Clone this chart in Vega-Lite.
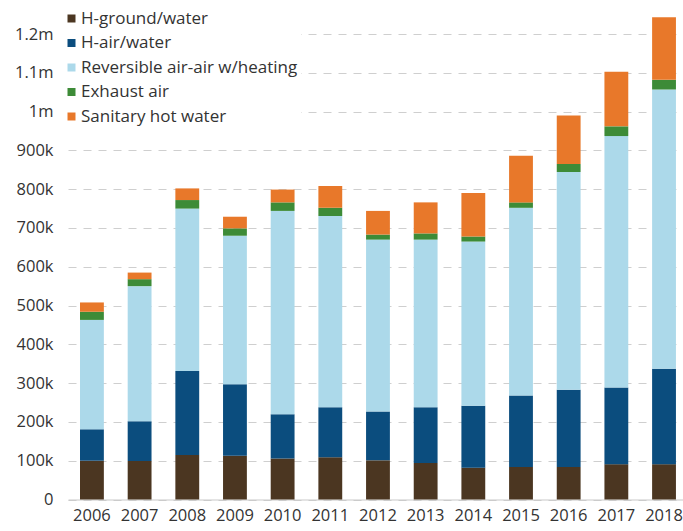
{
  "$schema": "https://vega.github.io/schema/vega-lite/v6.json",
  "autosize": {"type": "none"},
  "padding": {"left": 68, "top": 3, "right": 0, "bottom": 31.5},
  "width": 615,
  "height": 496.5,
  "background": "white",
  "config": {
    "view": {"stroke": null},
    "font": "Open Sans"
  },
  "data": {
    "values": [
      {"year": "2006", "type": "H-ground/water", "i": 1, "v": 100000},
      {"year": "2006", "type": "H-air/water", "i": 2, "v": 81000},
      {"year": "2006", "type": "Reversible air-air w/heating", "i": 3, "v": 282000},
      {"year": "2006", "type": "Exhaust air", "i": 4, "v": 21000},
      {"year": "2006", "type": "Sanitary hot water", "i": 5, "v": 24000},
      {"year": "2007", "type": "H-ground/water", "i": 1, "v": 99000},
      {"year": "2007", "type": "H-air/water", "i": 2, "v": 103000},
      {"year": "2007", "type": "Reversible air-air w/heating", "i": 3, "v": 348000},
      {"year": "2007", "type": "Exhaust air", "i": 4, "v": 18000},
      {"year": "2007", "type": "Sanitary hot water", "i": 5, "v": 17000},
      {"year": "2008", "type": "H-ground/water", "i": 1, "v": 115000},
      {"year": "2008", "type": "H-air/water", "i": 2, "v": 216000},
      {"year": "2008", "type": "Reversible air-air w/heating", "i": 3, "v": 419000},
      {"year": "2008", "type": "Exhaust air", "i": 4, "v": 22000},
      {"year": "2008", "type": "Sanitary hot water", "i": 5, "v": 30000},
      {"year": "2009", "type": "H-ground/water", "i": 1, "v": 113000},
      {"year": "2009", "type": "H-air/water", "i": 2, "v": 184000},
      {"year": "2009", "type": "Reversible air-air w/heating", "i": 3, "v": 383000},
      {"year": "2009", "type": "Exhaust air", "i": 4, "v": 19000},
      {"year": "2009", "type": "Sanitary hot water", "i": 5, "v": 30000},
      {"year": "2010", "type": "H-ground/water", "i": 1, "v": 106000},
      {"year": "2010", "type": "H-air/water", "i": 2, "v": 114000},
      {"year": "2010", "type": "Reversible air-air w/heating", "i": 3, "v": 524000},
      {"year": "2010", "type": "Exhaust air", "i": 4, "v": 22000},
      {"year": "2010", "type": "Sanitary hot water", "i": 5, "v": 33000},
      {"year": "2011", "type": "H-ground/water", "i": 1, "v": 109000},
      {"year": "2011", "type": "H-air/water", "i": 2, "v": 129000},
      {"year": "2011", "type": "Reversible air-air w/heating", "i": 3, "v": 493000},
      {"year": "2011", "type": "Exhaust air", "i": 4, "v": 21000},
      {"year": "2011", "type": "Sanitary hot water", "i": 5, "v": 56000},
      {"year": "2012", "type": "H-ground/water", "i": 1, "v": 101000},
      {"year": "2012", "type": "H-air/water", "i": 2, "v": 126000},
      {"year": "2012", "type": "Reversible air-air w/heating", "i": 3, "v": 443000},
      {"year": "2012", "type": "Exhaust air", "i": 4, "v": 13000},
      {"year": "2012", "type": "Sanitary hot water", "i": 5, "v": 61000},
      {"year": "2013", "type": "H-ground/water", "i": 1, "v": 94000},
      {"year": "2013", "type": "H-air/water", "i": 2, "v": 144000},
      {"year": "2013", "type": "Reversible air-air w/heating", "i": 3, "v": 432000},
      {"year": "2013", "type": "Exhaust air", "i": 4, "v": 16000},
      {"year": "2013", "type": "Sanitary hot water", "i": 5, "v": 80000},
      {"year": "2014", "type": "H-ground/water", "i": 1, "v": 82000},
      {"year": "2014", "type": "H-air/water", "i": 2, "v": 160000},
      {"year": "2014", "type": "Reversible air-air w/heating", "i": 3, "v": 423000},
      {"year": "2014", "type": "Exhaust air", "i": 4, "v": 13000},
      {"year": "2014", "type": "Sanitary hot water", "i": 5, "v": 112000},
      {"year": "2015", "type": "H-ground/water", "i": 1, "v": 84000},
      {"year": "2015", "type": "H-air/water", "i": 2, "v": 184000},
      {"year": "2015", "type": "Reversible air-air w/heating", "i": 3, "v": 484000},
      {"year": "2015", "type": "Exhaust air", "i": 4, "v": 14000},
      {"year": "2015", "type": "Sanitary hot water", "i": 5, "v": 120000},
      {"year": "2016", "type": "H-ground/water", "i": 1, "v": 84000},
      {"year": "2016", "type": "H-air/water", "i": 2, "v": 199000},
      {"year": "2016", "type": "Reversible air-air w/heating", "i": 3, "v": 561000},
      {"year": "2016", "type": "Exhaust air", "i": 4, "v": 21000},
      {"year": "2016", "type": "Sanitary hot water", "i": 5, "v": 125000},
      {"year": "2017", "type": "H-ground/water", "i": 1, "v": 91000},
      {"year": "2017", "type": "H-air/water", "i": 2, "v": 198000},
      {"year": "2017", "type": "Reversible air-air w/heating", "i": 3, "v": 648000},
      {"year": "2017", "type": "Exhaust air", "i": 4, "v": 25000},
      {"year": "2017", "type": "Sanitary hot water", "i": 5, "v": 141000},
      {"year": "2018", "type": "H-ground/water", "i": 1, "v": 91000},
      {"year": "2018", "type": "H-air/water", "i": 2, "v": 246000},
      {"year": "2018", "type": "Reversible air-air w/heating", "i": 3, "v": 720000},
      {"year": "2018", "type": "Exhaust air", "i": 4, "v": 25000},
      {"year": "2018", "type": "Sanitary hot water", "i": 5, "v": 161000}
    ]
  },
  "mark": {"type": "bar"},
  "encoding": {
    "x": {
      "field": "year",
      "type": "ordinal",
      "scale": {"paddingInner": 0.5, "paddingOuter": 0.2, "align": 0.63},
      "axis": {
        "title": null,
        "labelAngle": 0,
        "labelFontSize": 16.5,
        "labelColor": "#333333",
        "labelPadding": 8,
        "ticks": false,
        "domainColor": "#c8c8c8",
        "domainWidth": 1
      }
    },
    "y": {
      "field": "v",
      "type": "quantitative",
      "stack": "zero",
      "scale": {"domain": [0, 1280000], "nice": false},
      "axis": {
        "title": null,
        "values": [0, 100000, 200000, 300000, 400000, 500000, 600000, 700000, 800000, 900000, 1000000, 1100000, 1200000],
        "labelExpr": "datum.value == 0 ? '0' : (datum.value >= 1000000 ? format(datum.value / 1000000, '.1~f') + 'm' : format(datum.value / 1000, 'd') + 'k')",
        "labelFontSize": 16.5,
        "labelColor": "#333333",
        "labelPadding": 15,
        "ticks": false,
        "domain": false,
        "grid": true,
        "gridColor": "#cfcfcf",
        "gridDash": [8, 7],
        "gridWidth": 1.2
      }
    },
    "color": {
      "field": "type",
      "type": "nominal",
      "scale": {
        "domain": ["H-ground/water", "H-air/water", "Reversible air-air w/heating", "Exhaust air", "Sanitary hot water"],
        "range": ["#4b3621", "#0b4d7e", "#acd9ea", "#3d8b37", "#e8782a"]
      },
      "legend": {
        "title": null,
        "orient": "none",
        "legendX": -8,
        "legendY": 4,
        "symbolType": "square",
        "symbolSize": 64,
        "symbolStrokeWidth": 0,
        "labelFontSize": 17,
        "labelColor": "#333333",
        "labelOffset": 1,
        "rowPadding": 6.5,
        "fillColor": "white",
        "padding": 3,
        "labelLimit": 300
      }
    },
    "order": {"field": "i", "type": "quantitative"}
  }
}
